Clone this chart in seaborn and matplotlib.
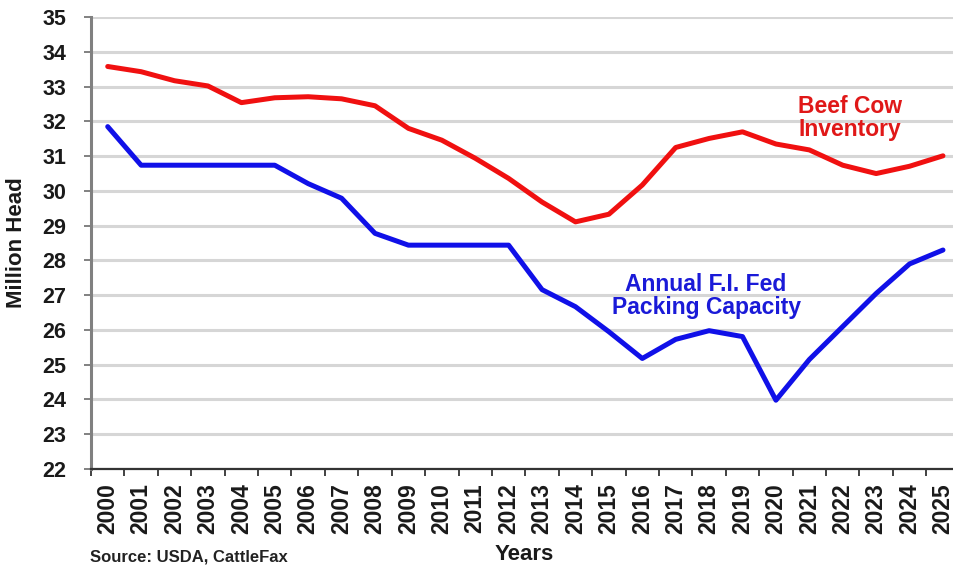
import numpy as np
import pandas as pd
import matplotlib
matplotlib.use("Agg")
import matplotlib.pyplot as plt
import seaborn as sns

# data
years = list(range(2000, 2026))
beef_cows = [33.58, 33.43, 33.17, 33.02, 32.54, 32.68, 32.71, 32.65, 32.45, 31.80,
             31.46, 30.94, 30.36, 29.68, 29.11, 29.33, 30.17, 31.25, 31.51, 31.70,
             31.35, 31.18, 30.74, 30.50, 30.71, 31.01]
packing_cap = [31.85, 30.74, 30.74, 30.74, 30.74, 30.74, 30.21, 29.79, 28.78, 28.44,
               28.44, 28.44, 28.44, 27.16, 26.67, 25.95, 25.18, 25.73, 25.98, 25.81,
               23.98, 25.15, 26.10, 27.05, 27.90, 28.30]
y_ticks = list(range(22, 36))

df = pd.DataFrame({
    "idx": np.arange(len(years)),
    "Beef Cow Inventory": beef_cows,
    "Packing Capacity": packing_cap,
}).melt(id_vars="idx", var_name="series", value_name="head")

sns.set_style("white")
plt.rcParams["font.family"] = ["Liberation Sans", "DejaVu Sans"]

fig = plt.figure(figsize=(9.54, 5.71), dpi=100)
ax = fig.add_axes([0.0954, 0.1786, 0.9046, 0.7914])

ax.set_axisbelow(True)
for v in y_ticks:
    ax.axhline(v, color="#d6d6d6", lw=2.2, zorder=0)

sns.lineplot(data=df, x="idx", y="head", hue="series",
             palette={"Beef Cow Inventory": "#f01010", "Packing Capacity": "#1010e8"},
             linewidth=3.6, legend=False, ax=ax, zorder=3)

ax.set_xlim(-0.48, 25.33)
ax.set_ylim(22, 35)

ax.set_yticks(y_ticks)
ax.set_yticklabels([str(v) for v in y_ticks], fontsize=15.5, fontweight="bold", color="#1a1a1a")
ax.set_xticks(np.arange(len(years)))
ax.set_xticklabels([str(y) for y in years], rotation=90, fontsize=16.5, fontweight="bold",
                   color="#1a1a1a")
ax.set_xticks(np.arange(len(years)) - 0.5, minor=True)
ax.tick_params(axis="x", which="major", length=0, pad=10)
ax.tick_params(axis="x", which="minor", length=5, width=1.3, color="#333333", direction="out")
ax.tick_params(axis="y", length=5, width=1.3, color="#777777", direction="out", pad=13)
ax.tick_params(bottom=True, left=True, which="both")

for s in ["top", "right"]:
    ax.spines[s].set_visible(False)
ax.spines["left"].set_color("#808080")
ax.spines["left"].set_linewidth(2.2)
ax.spines["bottom"].set_color("#333333")
ax.spines["bottom"].set_linewidth(1.6)

ax.set_xlabel("Years", fontsize=16, fontweight="bold", color="#1a1a1a")
ax.set_ylabel("Million Head", fontsize=16, fontweight="bold", color="#1a1a1a")
ax.xaxis.set_label_coords(0.502, -0.166)
ax.yaxis.set_label_coords(-0.074, 0.5)

ax.text(22.22, 32.1, "Beef Cow\nInventory", color="#e01818", fontsize=16.5, fontweight="bold",
        ha="center", va="center", linespacing=1.0)
ax.text(17.91, 26.98, "Annual F.I. Fed\nPacking Capacity", color="#1a1ad8", fontsize=16.5,
        fontweight="bold", ha="center", va="center", linespacing=1.0)

fig.text(0.094, 0.017, "Source: USDA, CattleFax", fontsize=12, fontweight="bold", color="#222222")

fig.savefig("out.png", dpi=100, facecolor="white")
